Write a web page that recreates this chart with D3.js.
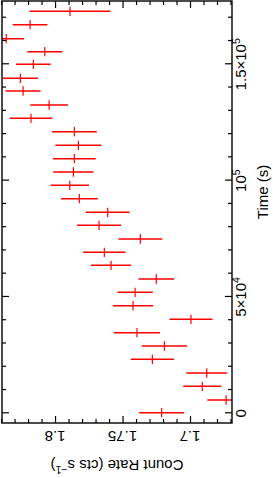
<!DOCTYPE html>
<html><head><meta charset="utf-8">
<script src="https://cdn.jsdelivr.net/npm/d3@7"></script>
<style>html,body{margin:0;padding:0;background:#fff;}svg{display:block;}</style>
</head><body>
<script>
// Light curve data (time in s, count rate in cts/s)
const times = [258, 5716, 11605, 17321, 23209, 28926, 34642, 40401, 46246, 52006, 57722, 63610, 69198, 74914, 80802, 86390, 92236, 97994, 103711, 109427, 115186, 121032, 126791, 132507, 138525, 143983, 150000, 155416, 161003, 167021, 172780];
const timeErr = [2000, 2000, 2000, 2000, 2000, 2000, 2000, 2000, 2000, 2000, 2000, 2000, 2000, 2000, 2000, 2000, 2000, 2000, 2000, 2000, 2000, 2000, 2000, 2000, 2000, 2000, 2000, 2000, 2000, 2000, 2000];
const rates = [1.7210, 1.6733, 1.6909, 1.6876, 1.7279, 1.7190, 1.7393, 1.6993, 1.7422, 1.7407, 1.7250, 1.7585, 1.7635, 1.7368, 1.7674, 1.7610, 1.7820, 1.7891, 1.7864, 1.7857, 1.7827, 1.7857, 1.8178, 1.8044, 1.8237, 1.8257, 1.8161, 1.8076, 1.8361, 1.8185, 1.7889];
const rateErr = [0.0167, 0.0139, 0.0141, 0.0152, 0.0160, 0.0168, 0.0171, 0.0159, 0.0149, 0.0131, 0.0132, 0.0149, 0.0157, 0.0162, 0.0163, 0.0162, 0.0136, 0.0142, 0.0150, 0.0158, 0.0170, 0.0166, 0.0158, 0.0140, 0.0130, 0.0130, 0.0128, 0.0130, 0.0131, 0.0128, 0.0300];

const timeMajor = [0, 50000, 100000, 150000];
const timeLabels = [["0", ""], ["5×10", "4"], ["10", "5"], ["1.5×10", "5"]];
const rateMajor = [1.7, 1.75, 1.8];
const rateLabels = ["1.7", "1.75", "1.8"];
const xTitle = "Time (s)";
const yTitle = ["Count Rate (cts s", "−1", ")"];

const W = 273, H = 478;        // page (rotated view)
const PW = 478, PH = 273;      // unrotated plot frame
const FONT = "'Liberation Sans', Arial, Helvetica, sans-serif";

const svg = d3.select("body").append("svg").attr("width", W).attr("height", H);
// rotate whole plot 90° counter-clockwise
const g = svg.append("g").attr("transform", `translate(0,${H}) rotate(-90)`);

const x = d3.scaleLinear().domain([-4169, 177200]).range([55, 477]);
const y = d3.scaleLinear().domain([1.6689, 1.8393]).range([232, 2]);
const [x0, x1] = x.range(), [y1, y0] = y.range();

g.append("clipPath").attr("id", "clip").append("rect")
  .attr("x", x0).attr("y", y0).attr("width", x1 - x0).attr("height", y1 - y0);

const data = times.map((t, i) => ({t, dt: timeErr[i], r: rates[i], dr: rateErr[i]}));
const pts = g.append("g").attr("clip-path", "url(#clip)");
pts.selectAll("line.h").data(data).join("line")
  .attr("x1", d => x(d.t - d.dt)).attr("x2", d => x(d.t + d.dt))
  .attr("y1", d => y(d.r)).attr("y2", d => y(d.r))
  .attr("stroke", "#ff0000").attr("stroke-width", 1.2);
pts.selectAll("line.v").data(data).join("line")
  .attr("x1", d => x(d.t)).attr("x2", d => x(d.t))
  .attr("y1", d => y(d.r - d.dr)).attr("y2", d => y(d.r + d.dr))
  .attr("stroke", "#ff0000").attr("stroke-width", 1.6);

// axes (ticks inward)
const timeMinor = d3.range(0, 177000, 10000).filter(v => v % 50000 !== 0);
const rateMinor = d3.range(1.67, 1.84, 0.01).map(v => +v.toFixed(2)).filter(v => Math.abs((v * 100) % 5) > 1e-6 && Math.abs((v*100)%5 - 5) > 1e-6);

function styleAxis(sel) {
  sel.select(".domain").remove();
  sel.selectAll("line").attr("stroke", "#000").attr("stroke-width", 1.2);
  sel.selectAll("text").remove();
}
g.append("g").attr("transform", `translate(0,${y1})`).call(d3.axisBottom(x).tickValues(timeMajor).tickSize(-7)).call(styleAxis);
g.append("g").attr("transform", `translate(0,${y1})`).call(d3.axisBottom(x).tickValues(timeMinor).tickSize(-4)).call(styleAxis);
g.append("g").attr("transform", `translate(0,${y0})`).call(d3.axisTop(x).tickValues(timeMajor).tickSize(-7)).call(styleAxis);
g.append("g").attr("transform", `translate(0,${y0})`).call(d3.axisTop(x).tickValues(timeMinor).tickSize(-4)).call(styleAxis);
g.append("g").attr("transform", `translate(${x0},0)`).call(d3.axisLeft(y).tickValues(rateMajor).tickSize(-7)).call(styleAxis);
g.append("g").attr("transform", `translate(${x0},0)`).call(d3.axisLeft(y).tickValues(rateMinor).tickSize(-4)).call(styleAxis);
g.append("g").attr("transform", `translate(${x1},0)`).call(d3.axisRight(y).tickValues(rateMajor).tickSize(-7)).call(styleAxis);
g.append("g").attr("transform", `translate(${x1},0)`).call(d3.axisRight(y).tickValues(rateMinor).tickSize(-4)).call(styleAxis);

g.append("rect").attr("x", x0).attr("y", y0).attr("width", x1 - x0).attr("height", y1 - y0)
  .attr("fill", "none").attr("stroke", "#000").attr("stroke-width", 1.4);

// time tick labels
timeMajor.forEach((v, i) => {
  const t = g.append("text").attr("x", x(v)).attr("y", 246).attr("text-anchor", "middle")
    .attr("font-family", FONT).attr("font-size", 15).attr("fill", "#000");
  t.append("tspan").text(timeLabels[i][0]);
  if (timeLabels[i][1]) t.append("tspan").attr("dy", -6).attr("font-size", 10.5).text(timeLabels[i][1]);
});
// rate tick labels (parallel to axis)
rateMajor.forEach((v, i) => {
  g.append("text").attr("transform", `translate(47,${y(v)}) rotate(-90)`).attr("text-anchor", "middle")
    .attr("font-family", FONT).attr("font-size", 15).attr("fill", "#000").text(rateLabels[i]);
});
// titles
g.append("text").attr("x", 286).attr("y", 268).attr("text-anchor", "middle")
  .attr("font-family", FONT).attr("font-size", 15).attr("fill", "#000").text(xTitle);
const yt = g.append("text").attr("transform", `translate(18,${(y0 + y1) / 2}) rotate(-90)`).attr("text-anchor", "middle")
  .attr("font-family", FONT).attr("font-size", 15).attr("fill", "#000");
yt.append("tspan").text(yTitle[0]);
yt.append("tspan").attr("dy", -6).attr("font-size", 10.5).text(yTitle[1]);
yt.append("tspan").attr("dy", 6).text(yTitle[2]);
</script>
</body></html>
